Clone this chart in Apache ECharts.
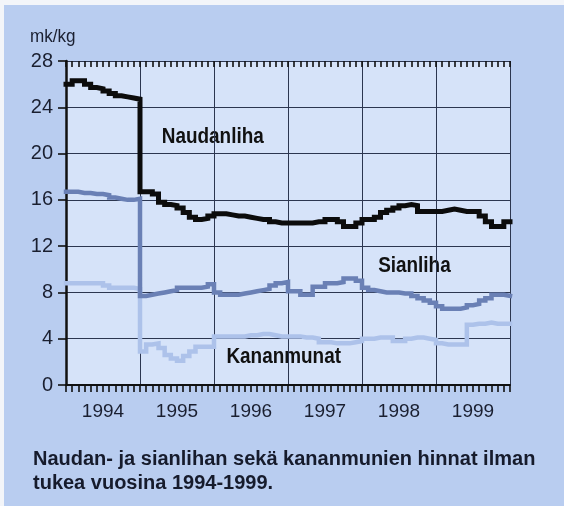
<!DOCTYPE html>
<html>
<head>
<meta charset="utf-8">
<script src="https://cdn.jsdelivr.net/npm/echarts@6/dist/echarts.min.js"></script>
<style>
  html, body { margin: 0; padding: 0; background: #b9cdf0; }
  #chart { width: 564px; height: 506px; }
</style>
</head>
<body>
<div id="chart"></div>
<script>
// Monthly prices (mk/kg), Jan 1994 - Dec 1999
const years = ['1994', '1995', '1996', '1997', '1998', '1999'];
const yTicks = [0, 4, 8, 12, 16, 20, 24, 28];

const naudanliha = [
    26.0, 26.3, 26.3, 26.0, 25.7, 25.6, 25.4, 25.2, 25.0, 24.9, 24.8, 24.7,
    16.7, 16.7, 16.5, 15.8, 15.6, 15.5, 15.3, 14.9, 14.5, 14.3, 14.4, 14.6,
    14.8, 14.8, 14.7, 14.6, 14.6, 14.5, 14.4, 14.3, 14.3, 14.1, 14.0, 14.0,
    14.0, 14.0, 14.0, 14.0, 14.1, 14.1, 14.3, 14.3, 14.1, 13.7, 13.7, 14.0,
    14.3, 14.3, 14.5, 14.9, 15.1, 15.3, 15.5, 15.6, 15.5, 15.0, 15.0, 15.0,
    15.0, 15.1, 15.2, 15.1, 15.0, 15.0, 15.0, 14.6, 14.1, 13.7, 13.7, 14.1
];
const sianliha = [
    16.7, 16.7, 16.6, 16.6, 16.5, 16.5, 16.4, 16.2, 16.1, 16.0, 16.0, 16.1,
    7.7, 7.8, 7.9, 8.0, 8.1, 8.2, 8.4, 8.4, 8.4, 8.4, 8.5, 8.7,
    8.0, 7.8, 7.8, 7.8, 7.9, 8.0, 8.1, 8.2, 8.3, 8.6, 8.8, 8.9,
    8.1, 8.1, 7.8, 7.8, 8.5, 8.5, 8.8, 8.8, 8.9, 9.2, 9.2, 9.0,
    8.4, 8.2, 8.1, 8.0, 8.0, 8.0, 7.9, 7.9, 7.7, 7.5, 7.3, 7.1,
    6.8, 6.6, 6.6, 6.6, 6.7, 6.9, 7.0, 7.3, 7.5, 7.8, 7.8, 7.7
];
const kananmunat = [
    8.8, 8.8, 8.8, 8.8, 8.8, 8.8, 8.6, 8.4, 8.4, 8.4, 8.4, 8.3,
    2.9, 3.5, 3.6, 3.2, 2.6, 2.3, 2.1, 2.5, 2.9, 3.3, 3.3, 3.3,
    4.2, 4.2, 4.2, 4.2, 4.2, 4.3, 4.3, 4.4, 4.4, 4.3, 4.2, 4.2,
    4.2, 4.2, 4.1, 4.1, 4.0, 3.7, 3.7, 3.6, 3.6, 3.6, 3.7, 3.8,
    4.0, 4.0, 4.1, 4.1, 4.1, 3.8, 3.8, 4.0, 4.1, 4.1, 4.0, 3.9,
    3.6, 3.5, 3.5, 3.5, 3.5, 5.2, 5.3, 5.3, 5.4, 5.3, 5.3, 5.3
];

// series name labels, placed in data space (month, mk/kg)
const seriesLabels = [
    { text: 'Naudanliha', at: [23.8, 21.4] },
    { text: 'Sianliha', at: [56.5, 10.3] },
    { text: 'Kananmunat', at: [35.3, 2.4] }
];

const months = naudanliha.length;
const gridColor = '#2c3650';
const font = '"Liberation Sans", Arial, sans-serif';

// each month value is held for the whole month: [i, v] ... plus closing point
function toSteps(values) {
    const pts = values.map((v, i) => [i, v]);
    pts.push([values.length, values[values.length - 1]]);
    return pts;
}

function lineSeries(name, values, color, width) {
    return {
        name: name,
        type: 'line',
        step: 'end',
        xAxisIndex: 0,
        symbol: 'none',
        data: toSteps(values),
        lineStyle: { color: color, width: width, cap: 'square', join: 'miter' },
        itemStyle: { color: color },
        silent: true
    };
}

const chart = echarts.init(document.getElementById('chart'));

const option = {
    backgroundColor: '#b9cdf0',
    animation: false,
    grid: {
        left: 66, top: 61, right: 54, bottom: 121,
        show: true,
        backgroundColor: '#d6e3f9',
        borderWidth: 0
    },
    title: {
        text: 'Naudan- ja sianlihan sekä kananmunien hinnat ilman\ntukea vuosina 1994-1999.',
        left: 28,
        top: 442,
        textStyle: {
            fontFamily: font,
            fontWeight: 'bold',
            fontSize: 20,
            lineHeight: 24,
            color: '#161b2c'
        }
    },
    graphic: [
        { id: 'stripTop', type: 'rect', shape: { x: 0, y: 0, width: 564, height: 5 }, style: { fill: '#f3f5f9' }, silent: true },
        { id: 'stripLeft', type: 'rect', shape: { x: 0, y: 0, width: 4, height: 506 }, style: { fill: '#f3f5f9' }, silent: true },
        {
            id: 'unit', type: 'text', x: 30, y: 27, scaleX: 0.9, silent: true,
            style: { text: 'mk/kg', x: 0, y: 0, font: '19px ' + font, fill: '#1a1f30' }
        }
    ],
    xAxis: [
        {
            type: 'value', min: 0, max: months, interval: 12,
            axisLine: { show: true, lineStyle: { color: '#111', width: 2 } },
            axisTick: { show: true, length: 7, lineStyle: { color: '#111', width: 1.6 } },
            minorTick: { show: true, splitNumber: 12, length: 7, lineStyle: { color: '#111', width: 1.6 } },
            splitLine: { show: true, lineStyle: { color: gridColor, width: 1 } },
            axisLabel: { show: false }
        },
        {
            type: 'value', min: 0, max: months, interval: 12,
            axisLine: { show: false },
            axisTick: { show: true, inside: true, length: 6, lineStyle: { color: '#111', width: 1.6 } },
            minorTick: { show: true, splitNumber: 12, length: 6, lineStyle: { color: '#111', width: 1.6 } },
            splitLine: { show: false },
            axisLabel: { show: false }
        },
        {
            type: 'category', data: years, boundaryGap: true, position: 'bottom',
            axisLine: { show: false },
            axisTick: { show: false },
            splitLine: { show: false },
            axisLabel: { margin: 17, fontFamily: font, fontSize: 19, color: '#1a1f30' }
        }
    ],
    yAxis: {
        type: 'value', min: yTicks[0], max: yTicks[yTicks.length - 1], interval: 4,
        axisLine: { show: true, lineStyle: { color: '#111', width: 2.5 } },
        axisTick: { show: true, length: 8, lineStyle: { color: '#111', width: 1.6 } },
        splitLine: { show: true, lineStyle: { color: gridColor, width: 1 } },
        axisLabel: {
            margin: 13,
            fontFamily: font,
            fontSize: 20,
            color: '#1a1f30'
        }
    },
    series: [
        lineSeries('Kananmunat', kananmunat, '#adc2ea', 4.5),
        lineSeries('Sianliha', sianliha, '#6a80b5', 4.5),
        lineSeries('Naudanliha', naudanliha, '#0c0c0c', 5)
    ]
};

chart.setOption(option);

// put the series names where the data coordinates say, slightly condensed
const labelEls = seriesLabels.map((d, i) => {
    const p = chart.convertToPixel({ gridIndex: 0 }, d.at);
    return {
        id: 'label' + i,
        type: 'text',
        x: p[0],
        y: p[1],
        scaleX: 0.86,
        silent: true,
        style: {
            text: d.text,
            x: 0, y: 0,
            align: 'center',
            verticalAlign: 'middle',
            font: 'bold 22px ' + font,
            fill: '#111'
        }
    };
});
chart.setOption({ graphic: labelEls });
</script>
</body>
</html>
